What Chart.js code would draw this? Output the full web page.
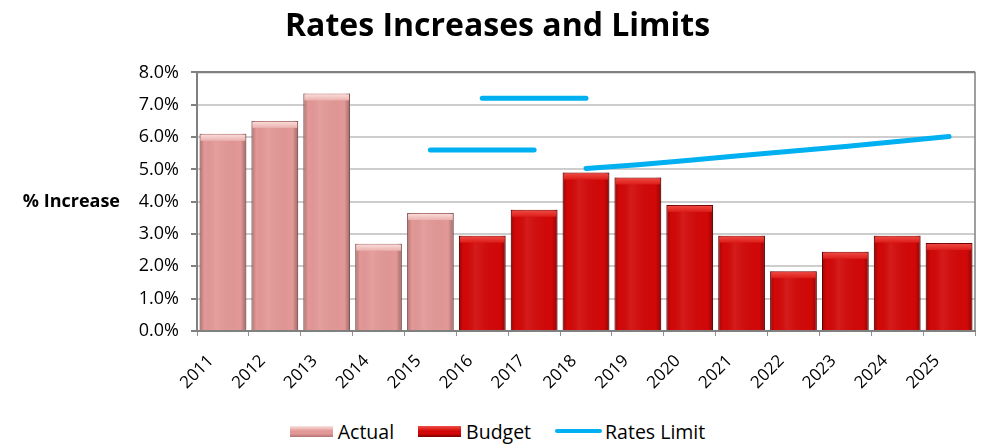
<!DOCTYPE html>
<html>
<head>
<meta charset="utf-8">
<title>Rates Increases and Limits</title>
<script src="https://cdn.jsdelivr.net/npm/chart.js@4.4.1/dist/chart.umd.min.js"></script>
<style>
    html, body { margin: 0; padding: 0; background: #fff; overflow: hidden; }
    #wrap { position: relative; width: 989px; height: 412px; }
    #legend {
        width: 989px; height: 32px; box-sizing: border-box; padding: 6px 0 0 6px;
        display: flex; justify-content: center; align-items: center;
        font-family: "Open Sans", sans-serif; font-size: 19.5px; color: #000;
    }
    #legend .item { display: flex; align-items: center; margin: 0 12px; }
    #legend .swatch { width: 43px; height: 11px; margin-right: 5px; }
    #legend .swatch.line { width: 47px; height: 4px; border-radius: 2px; margin-right: 3px; }
</style>
</head>
<body>
<div id="wrap"><canvas id="ratesChart"></canvas></div>
<div id="legend"></div>
<script>

var years = ['2011', '2012', '2013', '2014', '2015', '2016', '2017', '2018',
             '2019', '2020', '2021', '2022', '2023', '2024', '2025'];

// % increase, actual years then budgeted years
var actual = [6.1, 6.5, 7.35, 2.7, 3.65];
var budget = [2.95, 3.75, 4.9, 4.75, 3.9, 2.95, 1.85, 2.45, 2.95, 2.72];

// rates limit periods (each one starts at the given year)
var limit2015 = [5.6, 5.6, 5.6];
var limit2016 = [7.2, 7.2, 7.2];
var limit2018 = [5.03, 5.14, 5.28, 5.43, 5.57, 5.71, 5.86, 6.02];

var yMin = 0;
var yMax = 8;
var yStep = 1;

var limitColour = '#00B0F0';

// put a short run of values onto the full year axis
var spread = function (values, firstYear) {
    var out = new Array(years.length).fill(null);
    var start = years.indexOf(firstYear);
    values.forEach((v, i) => { out[start + i] = v; });
    return out;
};

var limitDataset = function (values, firstYear) {
    return {
        type: 'line',
        label: 'Rates Limit',
        data: spread(values, firstYear),
        borderColor: limitColour,
        backgroundColor: limitColour,
        borderWidth: 5,
        borderCapStyle: 'round',
        pointRadius: 0,
        tension: 0,
        order: 0
    };
};

// shading for the bars: dark sides, lighter top cap
var barLook = {
    'Actual': { body: '#E29896', edge: '#b27371', capTop: '#fbe2de', capBottom: '#eab0ad' },
    'Budget': { body: '#D20808', edge: '#7a0000', capTop: '#f05048', capBottom: '#dc1c18' }
};

var barShade = {
    id: 'barShade',
    afterDatasetDraw: function (chart, args) {
        var meta = args.meta;
        if (meta.type !== 'bar') return;
        var ds = chart.data.datasets[args.index];
        var look = barLook[ds.label];
        var c = chart.ctx;
        c.save();
        meta.data.forEach((bar, i) => {
            if (ds.data[i] == null) return;
            var p = bar.getProps(['x', 'y', 'width', 'base'], true);
            var left = p.x - p.width / 2;
            var g = c.createLinearGradient(left, 0, left + p.width, 0);
            g.addColorStop(0, 'rgba(0,0,0,0.25)');
            g.addColorStop(0.1, 'rgba(0,0,0,0)');
            g.addColorStop(0.35, 'rgba(255,255,255,0.08)');
            g.addColorStop(0.88, 'rgba(0,0,0,0)');
            g.addColorStop(1, 'rgba(0,0,0,0.3)');
            c.fillStyle = g;
            c.fillRect(left, p.y, p.width, p.base - p.y);

            var g2 = c.createLinearGradient(0, p.y, 0, p.y + 7);
            g2.addColorStop(0, look.capTop);
            g2.addColorStop(1, look.capBottom);
            c.fillStyle = g2;
            c.fillRect(left + 1, p.y + 1, p.width - 2, 6);
        });
        c.restore();
    }
};

// top and right edges of the plot box
var frame = {
    id: 'frame',
    beforeDatasetsDraw: function (chart) {
        var a = chart.chartArea;
        var c = chart.ctx;
        c.save();
        c.strokeStyle = '#808080';
        c.lineWidth = 1.5;
        c.beginPath();
        c.moveTo(a.left, a.top);
        c.lineTo(a.right, a.top);
        c.lineTo(a.right, a.bottom);
        c.stroke();
        c.restore();
    }
};

// horizontal y axis title on the left
var yTitle = {
    id: 'yTitle',
    afterDraw: function (chart) {
        var a = chart.chartArea;
        var c = chart.ctx;
        c.save();
        c.font = 'bold 18px "Open Sans", sans-serif';
        c.fillStyle = '#000';
        c.textAlign = 'right';
        c.textBaseline = 'middle';
        c.fillText('% Increase', 120, (a.top + a.bottom) / 2);
        c.restore();
    }
};

// legend as html under the canvas
var htmlLegend = {
    id: 'htmlLegend',
    afterUpdate: function (chart) {
        var box = document.getElementById('legend');
        box.innerHTML = '';
        var seen = {};
        var idx = chart.data.datasets.map((d, i) => i);
        var order = idx.filter(i => chart.data.datasets[i].type !== 'line')
            .concat(idx.filter(i => chart.data.datasets[i].type === 'line'));
        order.forEach(i => {
            var ds = chart.data.datasets[i];
            if (seen[ds.label]) return;
            seen[ds.label] = true;
            var item = document.createElement('div');
            item.className = 'item';
            var sw = document.createElement('div');
            if (ds.type === 'line') {
                sw.className = 'swatch line';
                sw.style.background = ds.borderColor;
            } else {
                var look = barLook[ds.label];
                sw.className = 'swatch';
                sw.style.background = 'linear-gradient(to bottom, ' + look.capTop + ' 0%, ' + look.body +
                    ' 45%, ' + look.body + ' 70%, ' + look.edge + ' 100%)';
            }
            var txt = document.createElement('span');
            txt.textContent = ds.label;
            item.appendChild(sw);
            item.appendChild(txt);
            box.appendChild(item);
        });
    }
};

Chart.defaults.font.family = '"Open Sans", sans-serif';
Chart.defaults.color = '#000';

var ctx = document.getElementById('ratesChart');
var ratesChart = new Chart(ctx, {
    type: 'bar',
    data: {
        labels: years,
        datasets: [
            {
                label: 'Actual',
                data: spread(actual, '2011'),
                backgroundColor: barLook['Actual'].body,
                borderColor: barLook['Actual'].edge,
                borderWidth: 1,
                order: 1
            },
            {
                label: 'Budget',
                data: spread(budget, '2016'),
                backgroundColor: barLook['Budget'].body,
                borderColor: barLook['Budget'].edge,
                borderWidth: 1,
                order: 1
            },
            limitDataset(limit2015, '2015'),
            limitDataset(limit2016, '2016'),
            limitDataset(limit2018, '2018')
        ]
    },
    options: {
        responsive: true,
        maintainAspectRatio: false,
        animation: false,
        layout: { padding: { left: 20, right: 14, top: 0, bottom: 0 } },
        datasets: { bar: { categoryPercentage: 1, barPercentage: 0.9 } },
        plugins: {
            title: {
                display: true,
                text: 'Rates Increases and Limits',
                color: '#000',
                font: { size: 32, weight: 'bold' },
                padding: { top: 8, bottom: 26 }
            },
            legend: { display: false },
            tooltip: { enabled: false }
        },
        scales: {
            x: {
                stacked: true,
                grid: { display: true, drawOnChartArea: false, offset: true, tickLength: 5, color: '#909090' },
                border: { color: '#808080', width: 2 },
                ticks: { autoSkip: false, minRotation: 45, maxRotation: 45, font: { size: 17 }, padding: 15, labelOffset: -12 },
                afterFit: function (scale) { scale.height = 81; }
            },
            y: {
                min: yMin,
                max: yMax,
                ticks: {
                    stepSize: yStep,
                    font: { size: 18 },
                    padding: 12,
                    callback: function (v) { return v.toFixed(1) + '%'; }
                },
                grid: {
                    color: function (c) { return c.tick && c.tick.value === yMax ? '#808080' : '#cdcdcd'; },
                    lineWidth: 2,
                    tickLength: 6,
                    tickColor: '#808080'
                },
                border: { color: '#808080', width: 2 },
                afterFit: function (scale) { scale.width = 177; }
            }
        }
    },
    plugins: [frame, barShade, yTitle, htmlLegend]
});
</script>
</body>
</html>
